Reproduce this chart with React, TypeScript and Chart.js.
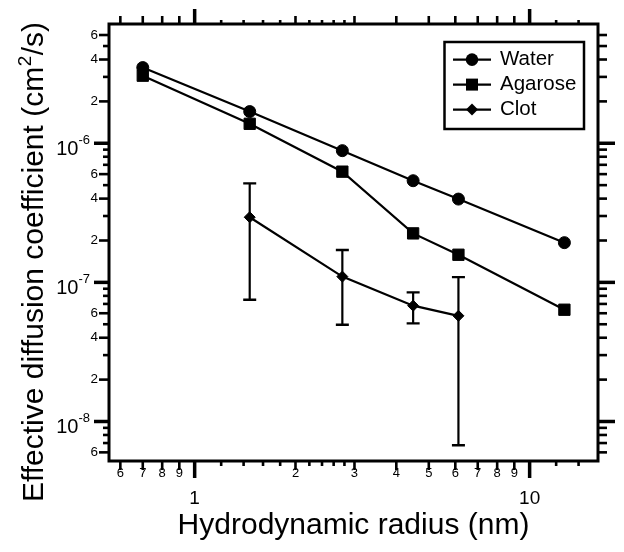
import React, { useEffect, useRef } from 'react';
import { Chart, registerables } from 'chart.js';

Chart.register(...registerables);

// ---- data ----
const radiusNm = [0.70, 1.46, 2.76, 4.49, 6.13, 12.7];
const waterD = [3.5e-6, 1.69e-6, 8.85e-7, 5.38e-7, 3.97e-7, 1.93e-7];
const agaroseD = [3.06e-6, 1.38e-6, 6.25e-7, 2.25e-7, 1.58e-7, 6.36e-8];
const clotRadiusNm = [1.46, 2.76, 4.49, 6.13];
const clotD = [2.94e-7, 1.10e-7, 6.8e-8, 5.75e-8];
const clotErrHigh = [5.15e-7, 1.71e-7, 8.47e-8, 1.09e-7];
const clotErrLow = [7.5e-8, 4.96e-8, 5.07e-8, 6.75e-9];

const seriesLabels = ['Water', 'Agarose', 'Clot'];

// ---- axes ----
const X_MIN = 0.555;
const X_MAX = 16;
const Y_MIN = 5.2e-9;
const Y_MAX = 7.2e-6;

const xMajorTicks = [1, 10];
const xLabeledTicks = [0.6, 0.7, 0.8, 0.9, 2, 3, 4, 5, 6, 7, 8, 9];
const xMinorTicks = [1.2, 1.4, 1.6, 1.8, 2.2, 2.4, 2.6, 2.8, 12, 14];
const yMajorTicks = [1e-8, 1e-7, 1e-6];
const yLabeledTicks = [6e-9, 2e-8, 4e-8, 6e-8, 2e-7, 4e-7, 6e-7, 2e-6, 4e-6, 6e-6];
const yMinorTicks = [7e-9, 8e-9, 9e-9, 3e-8, 5e-8, 7e-8, 8e-8, 9e-8, 3e-7, 5e-7, 7e-7, 8e-7, 9e-7, 3e-6, 5e-6];

const X_TITLE = 'Hydrodynamic radius (nm)';
const Y_TITLE_MAIN = 'Effective diffusion coefficient (cm';
const Y_TITLE_SUP = '2';
const Y_TITLE_TAIL = '/s)';

const FONT = "'Liberation Sans', Arial, Helvetica, sans-serif";

const near = (a: number, b: number) => Math.abs(Math.log10(a) - Math.log10(b)) < 1e-6;
const inList = (v: number, list: number[]) => list.some((t) => near(v, t));
const mantissa = (v: number) => {
  const e = Math.floor(Math.log10(v) + 1e-9);
  return Math.round(v / Math.pow(10, e));
};

const xAllTicks = [...xMajorTicks, ...xLabeledTicks, ...xMinorTicks].sort((a, b) => a - b);
const yAllTicks = [...yMajorTicks, ...yLabeledTicks, ...yMinorTicks].sort((a, b) => a - b);

const xLabel = (v: number): string | string[] => {
  if (inList(v, xMajorTicks)) return ['', String(Math.round(v))];
  if (inList(v, xLabeledTicks)) return String(mantissa(v));
  return '';
};
const yLabel = (v: number): string => {
  if (inList(v, yLabeledTicks)) return String(mantissa(v));
  return '';
};

const decoPlugin = {
  id: 'deco',
  beforeDatasetsDraw(chart: any) {
    const ctx = chart.ctx;
    const xs = chart.scales.x;
    const ys = chart.scales.y;
    ctx.save();
    ctx.strokeStyle = '#000';
    ctx.lineCap = 'butt';
    for (let i = 0; i < clotRadiusNm.length; i++) {
      const px = xs.getPixelForValue(clotRadiusNm[i]);
      const pHi = ys.getPixelForValue(clotErrHigh[i]);
      const pLo = ys.getPixelForValue(clotErrLow[i]);
      ctx.lineWidth = 2.2;
      ctx.beginPath();
      ctx.moveTo(px, pHi);
      ctx.lineTo(px, pLo);
      ctx.stroke();
      ctx.lineWidth = 2.4;
      ctx.beginPath();
      ctx.moveTo(px - 6.5, pHi);
      ctx.lineTo(px + 6.5, pHi);
      ctx.moveTo(px - 6.5, pLo);
      ctx.lineTo(px + 6.5, pLo);
      ctx.stroke();
    }
    ctx.restore();
  },
  afterDraw(chart: any) {
    const ctx = chart.ctx;
    const ca = chart.chartArea;
    const xs = chart.scales.x;
    const ys = chart.scales.y;
    ctx.save();
    ctx.strokeStyle = '#000';
    ctx.fillStyle = '#000';

    // frame
    ctx.lineWidth = 3;
    ctx.strokeRect(ca.left, ca.top, ca.right - ca.left, ca.bottom - ca.top);

    const tick = (x1: number, y1: number, x2: number, y2: number, w: number) => {
      ctx.lineWidth = w;
      ctx.beginPath();
      ctx.moveTo(x1, y1);
      ctx.lineTo(x2, y2);
      ctx.stroke();
    };

    // x ticks (bottom & top)
    xAllTicks.forEach((v) => {
      const px = xs.getPixelForValue(v);
      const major = inList(v, xMajorTicks);
      const labeled = inList(v, xLabeledTicks);
      const lb = major ? 17 : labeled ? 9 : 5;
      const lt = major ? 15 : labeled ? 8 : 4;
      const w = major ? 3.5 : 2.6;
      tick(px, ca.bottom, px, ca.bottom + lb, w);
      tick(px, ca.top, px, ca.top - lt, w);
    });
    // y ticks (left & right)
    yAllTicks.forEach((v) => {
      const py = ys.getPixelForValue(v);
      const major = inList(v, yMajorTicks);
      const labeled = inList(v, yLabeledTicks);
      const ll = major ? 15 : labeled ? 10 : 6;
      const lr = major ? 17 : 9;
      const w = major ? 3.5 : 2.6;
      tick(ca.left, py, ca.left - ll, py, w);
      tick(ca.right, py, ca.right + lr, py, w);
    });

    // y decade labels with superscript exponent
    yMajorTicks.forEach((v) => {
      const py = ys.getPixelForValue(v);
      const exp = String(Math.round(Math.log10(v)));
      ctx.textBaseline = 'alphabetic';
      ctx.textAlign = 'right';
      ctx.font = `13px ${FONT}`;
      const supRight = ca.left - 19;
      ctx.fillText(exp, supRight, py + 1);
      const supW = ctx.measureText(exp).width;
      ctx.font = `20px ${FONT}`;
      ctx.fillText('10', supRight - supW, py + 12);
    });

    // y title (rotated, with superscript)
    ctx.save();
    ctx.translate(42.5, 262);
    ctx.rotate(-Math.PI / 2);
    ctx.textAlign = 'left';
    ctx.textBaseline = 'alphabetic';
    ctx.font = `30px ${FONT}`;
    const w1 = ctx.measureText(Y_TITLE_MAIN).width;
    const w3 = ctx.measureText(Y_TITLE_TAIL).width;
    ctx.font = `19px ${FONT}`;
    const w2 = ctx.measureText(Y_TITLE_SUP).width;
    let sx = -(w1 + w2 + w3 + 1) / 2;
    ctx.font = `30px ${FONT}`;
    ctx.fillText(Y_TITLE_MAIN, sx, 0);
    sx += w1 + 0.5;
    ctx.font = `19px ${FONT}`;
    ctx.fillText(Y_TITLE_SUP, sx, -12);
    sx += w2 + 0.5;
    ctx.font = `30px ${FONT}`;
    ctx.fillText(Y_TITLE_TAIL, sx, 0);
    ctx.restore();

    // legend
    const bx = ca.right - 153.5;
    const by = ca.top + 18;
    const bw = 139.5;
    const bh = 87;
    ctx.fillStyle = '#fff';
    ctx.fillRect(bx, by, bw, bh);
    ctx.fillStyle = '#000';
    ctx.lineWidth = 2.5;
    ctx.strokeRect(bx, by, bw, bh);
    const styles = ['circle', 'rect', 'rectRot'];
    seriesLabels.forEach((label, i) => {
      const ry = by + 17.6 + i * 25;
      const lx1 = bx + 8.5;
      const lx2 = bx + 46.5;
      const mx = bx + 27.5;
      ctx.lineWidth = 2.2;
      ctx.beginPath();
      ctx.moveTo(lx1, ry);
      ctx.lineTo(lx2, ry);
      ctx.stroke();
      ctx.beginPath();
      if (styles[i] === 'circle') {
        ctx.arc(mx, ry, 6.3, 0, Math.PI * 2);
      } else if (styles[i] === 'rect') {
        ctx.rect(mx - 6, ry - 6, 12, 12);
      } else {
        ctx.moveTo(mx, ry - 6);
        ctx.lineTo(mx + 6, ry);
        ctx.lineTo(mx, ry + 6);
        ctx.lineTo(mx - 6, ry);
        ctx.closePath();
      }
      ctx.fill();
      ctx.font = `20.5px ${FONT}`;
      ctx.textAlign = 'left';
      ctx.textBaseline = 'middle';
      ctx.fillText(label, bx + 55.5, ry);
    });

    ctx.restore();
  },
};

export default function App() {
  const ref = useRef<HTMLCanvasElement>(null);

  useEffect(() => {
    if (!ref.current) return;
    Chart.defaults.font.family = FONT;
    const black = '#000';
    const chart = new Chart(ref.current, {
      type: 'scatter',
      data: {
        datasets: [
          {
            label: seriesLabels[0],
            data: radiusNm.map((x, i) => ({ x, y: waterD[i] })),
            showLine: true,
            borderColor: black,
            backgroundColor: black,
            borderWidth: 2.2,
            pointStyle: 'circle',
            pointRadius: 6,
            pointBorderWidth: 1,
          },
          {
            label: seriesLabels[1],
            data: radiusNm.map((x, i) => ({ x, y: agaroseD[i] })),
            showLine: true,
            borderColor: black,
            backgroundColor: black,
            borderWidth: 2.2,
            pointStyle: 'rect',
            pointRadius: 8,
            pointBorderWidth: 1,
          },
          {
            label: seriesLabels[2],
            data: clotRadiusNm.map((x, i) => ({ x, y: clotD[i] })),
            showLine: true,
            borderColor: black,
            backgroundColor: black,
            borderWidth: 2.2,
            pointStyle: 'rectRot',
            pointRadius: 5.5,
            pointBorderWidth: 1,
          },
        ],
      },
      options: {
        animation: false,
        responsive: false,
        devicePixelRatio: 1,
        layout: { padding: 0 },
        plugins: {
          legend: { display: false },
          tooltip: { enabled: false },
        },
        scales: {
          x: {
            type: 'logarithmic',
            position: 'bottom',
            min: X_MIN,
            max: X_MAX,
            grid: { display: false, drawTicks: false },
            border: { display: false },
            afterBuildTicks: (s: any) => {
              s.ticks = xAllTicks.map((v) => ({ value: v }));
            },
            afterFit: (s: any) => {
              s.height = 91;
            },
            ticks: {
              autoSkip: false,
              maxRotation: 0,
              minRotation: 0,
              padding: 5,
              color: black,
              callback: (v: any) => xLabel(Number(v)),
              font: (c: any) =>
                c.tick && inList(c.tick.value, xMajorTicks)
                  ? { family: FONT, size: 19, lineHeight: 1.15 }
                  : { family: FONT, size: 13, lineHeight: 1.2 },
            },
            title: {
              display: true,
              text: X_TITLE,
              color: black,
              font: { family: FONT, size: 30, lineHeight: 1.2 },
              padding: { top: 0, bottom: 8 },
            },
          },
          x2: {
            type: 'logarithmic',
            position: 'top',
            min: X_MIN,
            max: X_MAX,
            grid: { display: false, drawTicks: false },
            border: { display: false },
            afterBuildTicks: (s: any) => {
              s.ticks = xAllTicks.map((v) => ({ value: v }));
            },
            afterFit: (s: any) => {
              s.height = 24;
            },
            ticks: { display: false },
          },
          y: {
            type: 'logarithmic',
            position: 'left',
            min: Y_MIN,
            max: Y_MAX,
            grid: { display: false, drawTicks: false },
            border: { display: false },
            afterBuildTicks: (s: any) => {
              s.ticks = yAllTicks.map((v) => ({ value: v }));
            },
            afterFit: (s: any) => {
              s.width = 109;
            },
            ticks: {
              autoSkip: false,
              padding: 11,
              color: black,
              font: { family: FONT, size: 13.5 },
              callback: (v: any) => yLabel(Number(v)),
            },
          },
          y2: {
            type: 'logarithmic',
            position: 'right',
            min: Y_MIN,
            max: Y_MAX,
            grid: { display: false, drawTicks: false },
            border: { display: false },
            afterBuildTicks: (s: any) => {
              s.ticks = yAllTicks.map((v) => ({ value: v }));
            },
            afterFit: (s: any) => {
              s.width = 26;
            },
            ticks: { display: false },
          },
        },
      } as any,
      plugins: [decoPlugin],
    });
    return () => chart.destroy();
  }, []);

  return (
    <div style={{ position: 'absolute', left: 0, top: 0, width: 624, height: 552, background: '#fff' }}>
      <canvas ref={ref} width={624} height={552} style={{ display: 'block', width: 624, height: 552 }} />
    </div>
  );
}
